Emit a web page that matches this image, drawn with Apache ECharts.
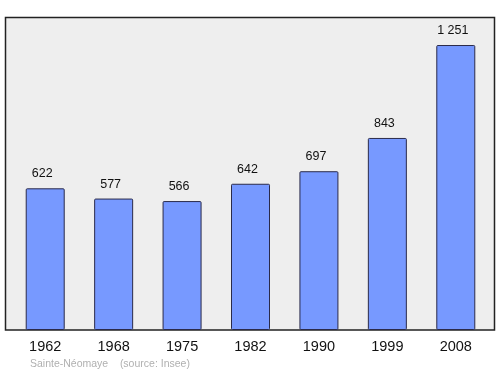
<!DOCTYPE html>
<html>
<head>
<meta charset="utf-8">
<script src="https://cdn.jsdelivr.net/npm/echarts@6/dist/echarts.min.js"></script>
<style>html,body{margin:0;padding:0;background:#fff}#c{width:500px;height:374px}</style>
</head>
<body>
<div id="c"></div>
<script>
var years = ['1962', '1968', '1975', '1982', '1990', '1999', '2008'];
var population = [622, 577, 566, 642, 697, 843, 1251];
var sourceText = 'Sainte-Néomaye    (source: Insee)';

function fmt(v) {
  return String(v).replace(/\B(?=(\d{3})+(?!\d))/g, ' ');
}

var chart = echarts.init(document.getElementById('c'), null, {renderer: 'canvas'});
chart.setOption({
  animation: false,
  backgroundColor: '#ffffff',
  textStyle: {fontFamily: 'Liberation Sans, Arial, sans-serif'},
  graphic: [
    {
      type: 'rect', z: -10, silent: true,
      shape: {x: 5.5, y: 17.5, width: 489, height: 312.5},
      style: {fill: '#eeeeee', stroke: '#222222', lineWidth: 1.5}
    },
    {
      type: 'text', left: 30, top: 359, silent: true,
      style: {text: sourceText, fill: '#b0b0b0', font: '10.5px Liberation Sans, Arial, sans-serif'}
    }
  ],
  grid: {left: 11, right: 10, top: 17, bottom: 44, containLabel: false},
  xAxis: {
    type: 'category',
    data: years,
    axisLine: {show: false},
    axisTick: {show: false},
    axisLabel: {color: '#111', fontSize: 14.5, margin: 9, fontFamily: 'Liberation Sans, Arial, sans-serif'}
  },
  yAxis: {
    type: 'value', min: 0, max: 1374,
    show: false,
    splitLine: {show: false}
  },
  series: [{
    type: 'bar',
    data: population,
    barWidth: 39,
    itemStyle: {color: '#7799ff', borderColor: '#2a2a4a', borderWidth: 1, borderRadius: 1},
    label: {
      show: true, position: 'top', distance: 8, offset: [-3, 0],
      color: '#111', fontSize: 12.5,
      fontFamily: 'Liberation Sans, Arial, sans-serif',
      formatter: function (p) { return fmt(p.value); }
    }
  }]
});
</script>
</body>
</html>
